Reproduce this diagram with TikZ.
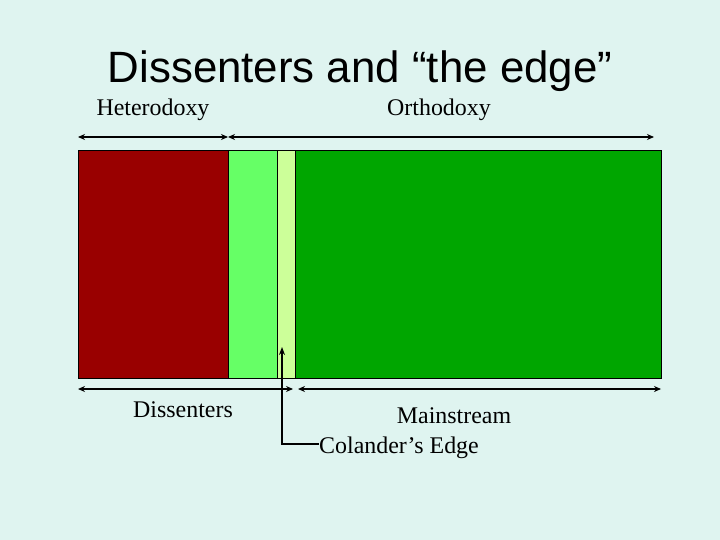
\documentclass[tikz,border=0pt]{standalone}
\usepackage{fontspec}
\setmainfont{Liberation Serif}
\newfontfamily\titlefont{Liberation Sans}
\usetikzlibrary{arrows.meta,positioning}
\definecolor{slidebg}{HTML}{DFF4F0}
\definecolor{hetred}{HTML}{990000}
\definecolor{dislight}{HTML}{66FF66}
\definecolor{edgepale}{HTML}{CCFF99}
\definecolor{mainfill}{HTML}{00A600}

\begin{document}
\begin{tikzpicture}[
  x=1bp, y=-1bp,
  node distance=0pt,
  bar/.style={draw, line width=0.8bp, inner sep=0pt, outer sep=0pt,
              minimum height=228bp},
  lbl/.style={font=\fontsize{24}{28}\selectfont, inner sep=0pt, anchor=base},
  span/.style={{Stealth[length=7bp,width=6bp]}-{Stealth[length=7bp,width=6bp]},
               line width=2bp},
  ptr/.style={-{Stealth[length=8bp,width=6bp]}, line width=1.6bp}
]
  \fill[slidebg] (0,0) rectangle (720,540);

  \node[font=\titlefont\fontsize{44}{50}\selectfont, anchor=base] (title) at (360,83)
        {Dissenters and “the edge”};

  % the four bands
  \node[bar, fill=hetred, minimum width=150bp, anchor=north west] (het) at (78,150) {};
  \node[bar, fill=dislight, minimum width=49bp, right=of het] (dis) {};
  \node[bar, fill=edgepale, minimum width=18bp, right=of dis] (pale) {};
  \node[bar, fill=mainfill, minimum width=366bp, right=of pale] (main) {};

  % spans above
  \node[lbl] (hetlbl) at (153,116) {Heterodoxy};
  \node[lbl] (ortlbl) at (439,116) {Orthodoxy};
  \draw[span] ([yshift=13bp]het.north west) -- ([yshift=13bp]het.north east);
  \draw[span] ([yshift=13bp]dis.north west) -- ([xshift=-7bp,yshift=13bp]main.north east);

  % spans below
  \node[lbl] (dislbl) at (183,417) {Dissenters};
  \node[lbl] (mainlbl) at (454,423) {Mainstream};
  \draw[span] ([yshift=-11bp]het.south west) -- ([xshift=-2bp,yshift=-11bp]pale.south east);
  \draw[span] ([xshift=3bp,yshift=-11bp]main.south west) -- ([yshift=-11bp]main.south east);

  % pointer to the edge
  \node[lbl, anchor=base west] (edge) at (319,453) {Colander’s Edge};
  \draw[ptr] ([yshift=9bp]edge.base west) -| ([xshift=-4bp,yshift=31bp]pale.south);
\end{tikzpicture}
\end{document}
